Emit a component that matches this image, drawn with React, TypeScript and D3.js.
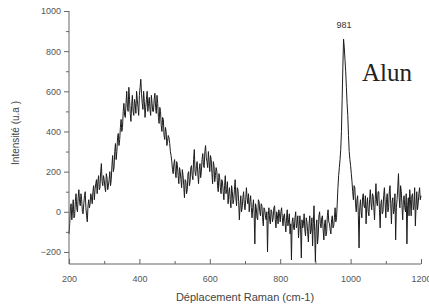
import { useEffect, useRef } from 'react';
import * as d3 from 'd3';

// Raman spectrum of alum, sampled every 2 cm-1 from 200 to 1200
const shiftStart = 200;
const shiftStep = 2;
const intensity = [
  -110, -60, 20, 40, -40, 10, 60, -30, -20, 50, 90, 20, 0, 70, 110, 50, 30, 90, 60, 0,
  -10, 40, 80, 100, 20, -20, -50, 30, 60, 20, 40, 90, 70, 40, 100, 130, 60, 110, 140, 160,
  90, 150, 180, 110, 120, 200, 240, 150, 130, 180, 160, 120, 100, 190, 170, 110, 130, 160, 200, 130,
  160, 230, 280, 200, 220, 300, 340, 260, 300, 370, 390, 330, 360, 420, 460, 400, 420, 500, 540, 480,
  470, 540, 600, 520, 500, 620, 560, 490, 450, 530, 580, 500, 480, 560, 540, 490, 600, 560, 520, 480,
  580, 620, 660, 590, 540, 510, 600, 550, 470, 520, 560, 600, 500, 540, 570, 510, 480, 580, 540, 500,
  500, 560, 590, 520, 490, 580, 540, 470, 440, 520, 500, 430, 400, 470, 460, 380, 360, 420, 400, 330,
  350, 380, 370, 340, 300, 280, 250, 210, 190, 240, 260, 200, 170, 250, 230, 180, 140, 220, 200, 160,
  120, 210, 180, 130, 70, 160, 150, 90, 110, 190, 200, 130, 150, 220, 230, 180, 160, 260, 310, 200,
  180, 230, 250, 190, 140, 210, 240, 170, 200, 260, 290, 230, 220, 300, 330, 270, 250, 220, 300, 250,
  200, 280, 260, 190, 140, 250, 230, 150, 180, 220, 200, 130, 100, 190, 170, 120, 90, 160, 150, 100,
  60, 130, 180, 90, 110, 150, 40, 90, 120, 60, 20, 130, 100, 40, 60, 110, 160, 70, 30, 120,
  110, 50, -40, 30, 80, 0, 20, 70, 100, 40, 10, 60, 120, 70, 40, 90, 0, 50, 80, 20,
  -30, 20, 60, -10, -160, 40, 20, -30, -40, 60, 50, 0, -20, 40, 30, -30, -70, 20, 10, -20,
  -40, 0, -200, -20, 20, -40, -60, 10, 0, -50, -30, 20, 30, -40, -80, 0, -20, -60, 10, -10,
  -50, 0, 20, -30, -70, -20, -10, -60, -100, -30, 10, -70, -40, -10, -110, -60, -240, -50, -30, -80,
  -90, -30, 0, -80, -60, -20, -130, -70, -20, -90, -230, -40, -80, -60, -10, -90, -120, -30, -50, -100,
  -150, -60, -20, -110, -90, -30, -170, -60, 30, -100, -250, -80, -40, -160, -120, -20, 0, -60, -80, -30,
  -20, -90, -140, -60, -40, -120, -100, -20, 10, -50, -60, -90, -110, -40, -20, -80, -70, -30, 20, -50,
  -30, 40, 120, 180, 220, 260, 310, 400, 560, 720, 860, 820, 760, 700, 620, 540, 480, 380, 300, 260,
  230, 190, 150, 100, 60, 130, 120, 40, 0, 60, 80, -20, -180, 20, 60, 0, -30, 70, 90, 30,
  20, 80, -60, 30, 70, 0, -20, 60, 110, 40, 10, 90, 80, 20, -40, 60, 140, 50, 30, 100,
  100, 10, -80, 40, 60, -10, 0, 80, 120, 50, -30, 60, 90, 0, 20, 100, 130, 40, -60, 50,
  70, -10, 10, 90, -140, 20, 60, 120, 190, 70, 20, 130, 100, 30, -40, 60, 80, 20, 0, 90,
  -160, 30, 70, -20, 110, 60, -20, 80, 90, 10, 30, 120, -70, 30, 100, 10, 40, 90, 120, 60,
  80,
];

const xTicks = [200, 400, 600, 800, 1000, 1200];
const yTicks = [-200, 0, 200, 400, 600, 800, 1000];
const peakLabel = { shift: 981, text: '981' };
const sampleName = 'Alun';
const xTitle = 'Déplacement Raman (cm-1)';
const yTitle = 'Intensité (u.a )';

const W = 429;
const H = 306;

export default function App() {
  const svgRef = useRef<SVGSVGElement>(null);

  useEffect(() => {
    if (!svgRef.current) return;
    const svg = d3.select(svgRef.current);
    svg.selectAll('*').remove();

    const x = d3.scaleLinear().domain([200, 1200]).range([69, 421]);
    const y = d3.scaleLinear().domain([-260, 1000]).range([264, 11]);

    const points = intensity.map((v, i) => ({ shift: shiftStart + i * shiftStep, v }));

    const line = d3.line<{ shift: number; v: number }>()
      .x(d => x(d.shift))
      .y(d => y(d.v));

    svg.append('path')
      .datum(points)
      .attr('d', line)
      .attr('fill', 'none')
      .attr('stroke', '#1c1c1c')
      .attr('stroke-width', 1);

    const tickFont = (g: any) => g.selectAll('.tick text')
      .attr('fill', '#555')
      .attr('font-size', '9px')
      .attr('font-family', 'Liberation Sans, Arial, sans-serif');

    // minor ticks
    svg.append('g')
      .attr('transform', `translate(0,${y(-260)})`)
      .call(d3.axisBottom(x).tickValues(d3.range(300, 1200, 200)).tickSize(-3).tickFormat(() => ''))
      .call(g => g.select('.domain').remove())
      .call(g => g.selectAll('.tick line').attr('stroke', '#666'));

    svg.append('g')
      .attr('transform', `translate(${x(200)},0)`)
      .call(d3.axisLeft(y).tickValues(d3.range(-100, 1000, 200)).tickSize(3).tickFormat(() => ''))
      .call(g => g.select('.domain').remove())
      .call(g => g.selectAll('.tick line').attr('stroke', '#666'));

    // major axes
    svg.append('g')
      .attr('transform', `translate(0,${y(-260)})`)
      .call(d3.axisBottom(x).tickValues(xTicks).tickSize(-5).tickPadding(12).tickFormat(d3.format('d')))
      .call(g => g.select('.domain').attr('stroke', '#666').attr('d', `M${x(200)},0H${x(1200)}`))
      .call(g => g.selectAll('.tick line').attr('stroke', '#666'))
      .call(tickFont);

    svg.append('g')
      .attr('transform', `translate(${x(200)},0)`)
      .call(d3.axisLeft(y).tickValues(yTicks).tickSize(5).tickPadding(3).tickFormat(d3.format('d')))
      .call(g => g.select('.domain').attr('stroke', '#666').attr('d', `M0,${y(1000)}V${y(-260)}`))
      .call(g => g.selectAll('.tick line').attr('stroke', '#666'))
      .call(tickFont);

    svg.append('text')
      .attr('x', 245)
      .attr('y', 301)
      .attr('text-anchor', 'middle')
      .attr('fill', '#444')
      .attr('font-size', '11px')
      .attr('font-family', 'Liberation Sans, Arial, sans-serif')
      .text(xTitle);

    svg.append('text')
      .attr('transform', `translate(19,${133}) rotate(-90)`)
      .attr('text-anchor', 'middle')
      .attr('fill', '#444')
      .attr('font-size', '10px')
      .attr('font-family', 'Liberation Sans, Arial, sans-serif')
      .text(yTitle);

    svg.append('text')
      .attr('x', x(peakLabel.shift))
      .attr('y', 28)
      .attr('text-anchor', 'middle')
      .attr('fill', '#333')
      .attr('font-size', '9px')
      .attr('font-family', 'Liberation Sans, Arial, sans-serif')
      .text(peakLabel.text);

    svg.append('text')
      .attr('x', 362)
      .attr('y', 81)
      .attr('fill', '#222')
      .attr('font-size', '25px')
      .attr('font-family', 'Liberation Serif, Times New Roman, serif')
      .text(sampleName);
  }, []);

  return (
    <svg
      ref={svgRef}
      width={W}
      height={H}
      style={{ position: 'absolute', left: 0, top: 0, background: '#fff' }}
    />
  );
}
